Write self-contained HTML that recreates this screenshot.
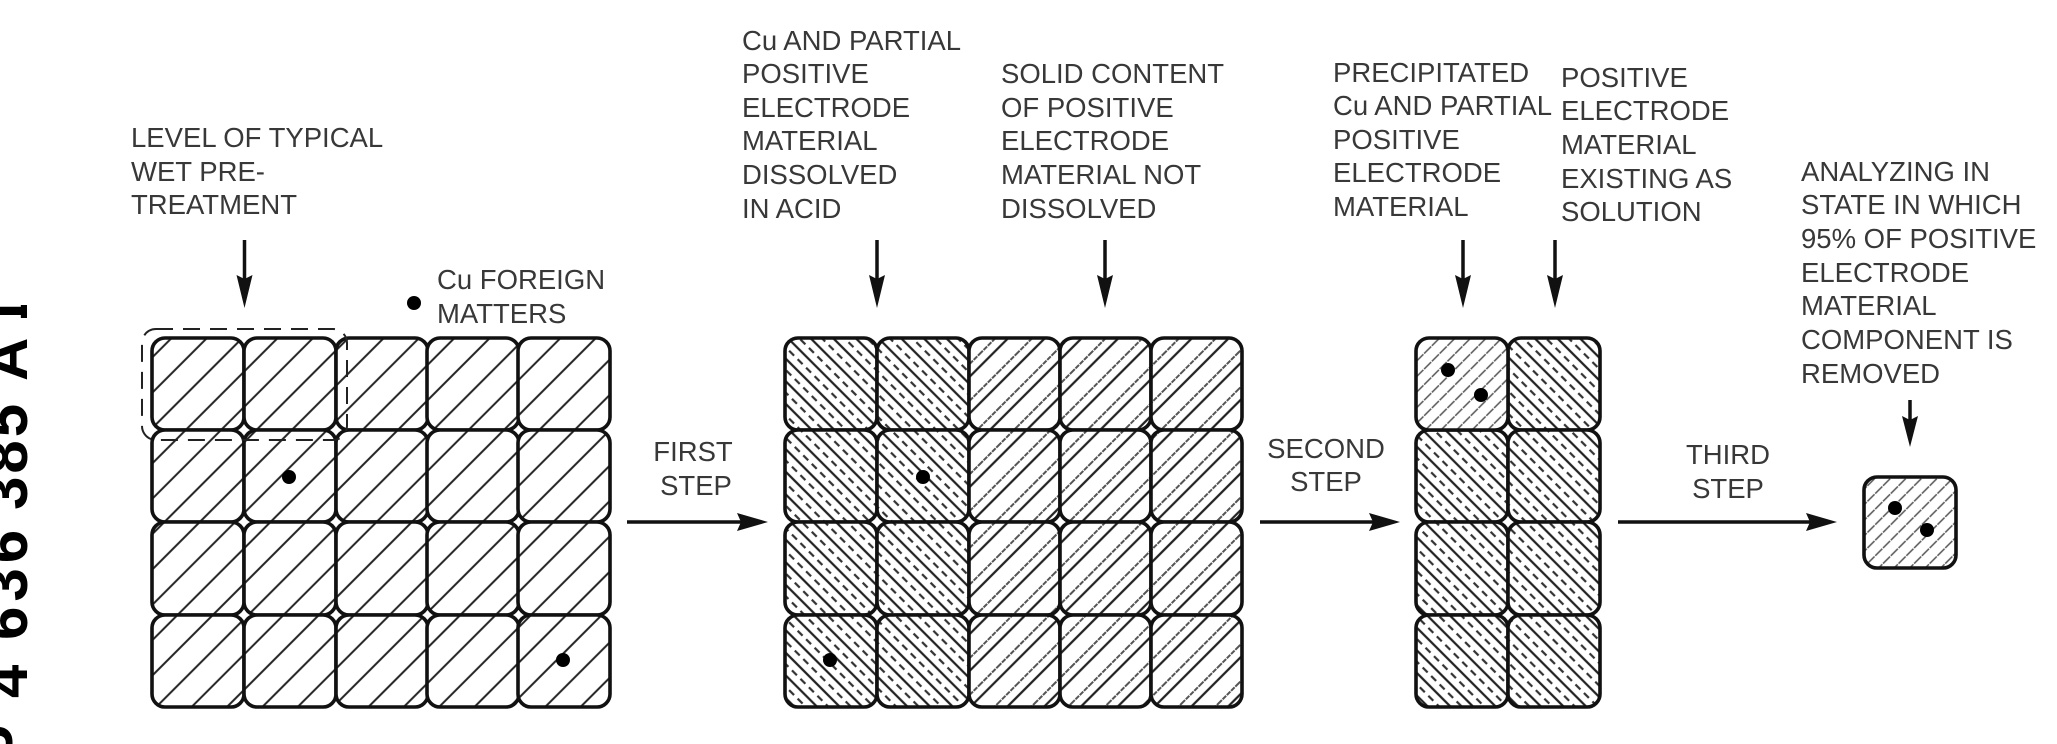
<!DOCTYPE html>
<html>
<head>
<meta charset="utf-8">
<style>
html,body{margin:0;padding:0;background:#fff;width:2057px;height:744px;overflow:hidden}
svg{display:block}
.t{font-family:"Liberation Sans",sans-serif;font-size:27.5px;fill:#383838}
.b{font-family:"Liberation Sans",sans-serif;font-size:60px;font-weight:bold;fill:#000}
.c{fill:none;stroke:#111;stroke-width:3.6}
</style>
</head>
<body>
<svg width="2057" height="744" viewBox="0 0 2057 744" xmlns="http://www.w3.org/2000/svg">
<defs>
<clipPath id="one"><rect x="0" y="305" width="40" height="13"/></clipPath>
<pattern id="a" patternUnits="userSpaceOnUse" width="25" height="25" patternTransform="rotate(-45)">
<rect width="25" height="25" fill="#fff"/><line x1="0" y1="10.400" x2="25" y2="10.400" stroke="#222" stroke-width="2"/>
</pattern>
<pattern id="b" patternUnits="userSpaceOnUse" width="24" height="16" patternTransform="rotate(45)">
<rect width="24" height="16" fill="#fff"/>
<line x1="0" y1="2" x2="24" y2="2" stroke="#222" stroke-width="2.2"/>
<line x1="2" y1="10" x2="9" y2="10" stroke="#333" stroke-width="2.2"/>
<line x1="14" y1="10" x2="21" y2="10" stroke="#333" stroke-width="2.2"/>
</pattern>
<pattern id="d" patternUnits="userSpaceOnUse" width="26" height="26" patternTransform="rotate(-45)">
<rect width="26" height="26" fill="#fff"/>
<line x1="0" y1="16" x2="26" y2="16" stroke="#222" stroke-width="2.2"/>
<line x1="0" y1="7" x2="26" y2="7" stroke="#555" stroke-width="2" stroke-dasharray="5 1"/>
</pattern>
<pattern id="f" patternUnits="userSpaceOnUse" width="11" height="11" patternTransform="rotate(-45)">
<rect width="11" height="11" fill="#fff"/>
<line x1="0" y1="3" x2="11" y2="3" stroke="#555" stroke-width="1.6" stroke-dasharray="8 1"/>
</pattern>
</defs>

<!-- Publication number -->
<g class="b">
<text transform="translate(27 381) rotate(-90)">A</text>
<g clip-path="url(#one)"><text transform="translate(27 329) rotate(-90)">1</text></g>
<text transform="translate(27 510) rotate(-90)" style="letter-spacing:3px">385</text>
<text transform="translate(27 640) rotate(-90)" style="letter-spacing:5px">636</text>
<text transform="translate(27 698) rotate(-90)">4</text>
<text transform="translate(27 765) rotate(-90)">P</text>
</g>

<!-- Labels -->
<g class="t">
<text x="131" y="147">LEVEL OF TYPICAL</text>
<text x="131" y="181">WET PRE-</text>
<text x="131" y="214">TREATMENT</text>
<text x="437" y="289">Cu FOREIGN</text>
<text x="437" y="323">MATTERS</text>

<text x="742" y="50">Cu AND PARTIAL</text>
<text x="742" y="83">POSITIVE</text>
<text x="742" y="117">ELECTRODE</text>
<text x="742" y="150">MATERIAL</text>
<text x="742" y="184">DISSOLVED</text>
<text x="742" y="218">IN ACID</text>

<text x="1001" y="83">SOLID CONTENT</text>
<text x="1001" y="117">OF POSITIVE</text>
<text x="1001" y="150">ELECTRODE</text>
<text x="1001" y="184">MATERIAL NOT</text>
<text x="1001" y="218">DISSOLVED</text>

<text x="1333" y="82">PRECIPITATED</text>
<text x="1333" y="115">Cu AND PARTIAL</text>
<text x="1333" y="149">POSITIVE</text>
<text x="1333" y="182">ELECTRODE</text>
<text x="1333" y="216">MATERIAL</text>

<text x="1561" y="87">POSITIVE</text>
<text x="1561" y="120">ELECTRODE</text>
<text x="1561" y="154">MATERIAL</text>
<text x="1561" y="188">EXISTING AS</text>
<text x="1561" y="221">SOLUTION</text>

<text x="1801" y="181">ANALYZING IN</text>
<text x="1801" y="214">STATE IN WHICH</text>
<text x="1801" y="248">95% OF POSITIVE</text>
<text x="1801" y="282">ELECTRODE</text>
<text x="1801" y="315">MATERIAL</text>
<text x="1801" y="349">COMPONENT IS</text>
<text x="1801" y="383">REMOVED</text>

<text x="693" y="461" text-anchor="middle">FIRST</text>
<text x="696" y="495" text-anchor="middle">STEP</text>
<text x="1326" y="458" text-anchor="middle">SECOND</text>
<text x="1326" y="491" text-anchor="middle">STEP</text>
<text x="1728" y="464" text-anchor="middle">THIRD</text>
<text x="1728" y="498" text-anchor="middle">STEP</text>
</g>

<!-- Grid 1 -->
<g class="c" style="fill:url(#a)">
<rect x="152" y="338" width="92" height="92" rx="13"/><rect x="244" y="338" width="92" height="92" rx="13"/><rect x="336" y="338" width="92" height="92" rx="13"/><rect x="427" y="338" width="92" height="92" rx="13"/><rect x="518" y="338" width="92" height="92" rx="13"/>
<rect x="152" y="430" width="92" height="92" rx="13"/><rect x="244" y="430" width="92" height="92" rx="13"/><rect x="336" y="430" width="92" height="92" rx="13"/><rect x="427" y="430" width="92" height="92" rx="13"/><rect x="518" y="430" width="92" height="92" rx="13"/>
<rect x="152" y="522" width="92" height="93" rx="13"/><rect x="244" y="522" width="92" height="93" rx="13"/><rect x="336" y="522" width="92" height="93" rx="13"/><rect x="427" y="522" width="92" height="93" rx="13"/><rect x="518" y="522" width="92" height="93" rx="13"/>
<rect x="152" y="615" width="92" height="92" rx="13"/><rect x="244" y="615" width="92" height="92" rx="13"/><rect x="336" y="615" width="92" height="92" rx="13"/><rect x="427" y="615" width="92" height="92" rx="13"/><rect x="518" y="615" width="92" height="92" rx="13"/>
</g>

<!-- Grid 2 -->
<g class="c" style="fill:url(#b)">
<rect x="785" y="338" width="92" height="92" rx="13"/><rect x="877" y="338" width="92" height="92" rx="13"/>
<rect x="785" y="430" width="92" height="92" rx="13"/><rect x="877" y="430" width="92" height="92" rx="13"/>
<rect x="785" y="522" width="92" height="93" rx="13"/><rect x="877" y="522" width="92" height="93" rx="13"/>
<rect x="785" y="615" width="92" height="92" rx="13"/><rect x="877" y="615" width="92" height="92" rx="13"/>
</g>
<g class="c" style="fill:url(#d)">
<rect x="969" y="338" width="91" height="92" rx="13"/><rect x="1060" y="338" width="91" height="92" rx="13"/><rect x="1151" y="338" width="91" height="92" rx="13"/>
<rect x="969" y="430" width="91" height="92" rx="13"/><rect x="1060" y="430" width="91" height="92" rx="13"/><rect x="1151" y="430" width="91" height="92" rx="13"/>
<rect x="969" y="522" width="91" height="93" rx="13"/><rect x="1060" y="522" width="91" height="93" rx="13"/><rect x="1151" y="522" width="91" height="93" rx="13"/>
<rect x="969" y="615" width="91" height="92" rx="13"/><rect x="1060" y="615" width="91" height="92" rx="13"/><rect x="1151" y="615" width="91" height="92" rx="13"/>
</g>

<!-- Grid 3 -->
<g class="c" style="fill:url(#b)">
<rect x="1508" y="338" width="92" height="92" rx="13"/>
<rect x="1416" y="430" width="92" height="92" rx="13"/><rect x="1508" y="430" width="92" height="92" rx="13"/>
<rect x="1416" y="522" width="92" height="93" rx="13"/><rect x="1508" y="522" width="92" height="93" rx="13"/>
<rect x="1416" y="615" width="92" height="92" rx="13"/><rect x="1508" y="615" width="92" height="92" rx="13"/>
</g>
<g class="c" style="fill:url(#f)">
<rect x="1416" y="338" width="92" height="92" rx="13"/>
<rect x="1864" y="477" width="92" height="91" rx="13"/>
</g>

<!-- Dashed outline -->
<rect x="142" y="329" width="205" height="111" rx="14" fill="none" stroke="#222" stroke-width="2" stroke-dasharray="17 10"/>

<!-- Dots -->
<g fill="#000">
<circle cx="414" cy="303" r="7"/>
<circle cx="289" cy="477" r="7"/>
<circle cx="563" cy="660" r="7"/>
<circle cx="923" cy="477" r="7"/>
<circle cx="830" cy="660" r="7"/>
<circle cx="1448" cy="370" r="7"/>
<circle cx="1481" cy="395" r="7"/>
<circle cx="1895" cy="508" r="7"/>
<circle cx="1927" cy="530" r="7"/>
</g>

<!-- Arrows -->
<g stroke="#111" stroke-width="3.5" fill="none">
<line x1="244.500" y1="240" x2="244.500" y2="280"/>
<line x1="877" y1="240" x2="877" y2="280"/>
<line x1="1105" y1="240" x2="1105" y2="280"/>
<line x1="1463" y1="240" x2="1463" y2="280"/>
<line x1="1555" y1="240" x2="1555" y2="280"/>
<line x1="1910" y1="400" x2="1910" y2="425"/>
<line x1="627" y1="522" x2="745" y2="522"/>
<line x1="1260" y1="522" x2="1375" y2="522"/>
<line x1="1618" y1="522" x2="1810" y2="522"/>
</g>
<g fill="#111">
<polygon points="236.500,275 244.500,279 252.500,275 244.500,308"/>
<polygon points="869,275 877,279 885,275 877,308"/>
<polygon points="1097,275 1105,279 1113,275 1105,308"/>
<polygon points="1455,275 1463,279 1471,275 1463,308"/>
<polygon points="1547,275 1555,279 1563,275 1555,308"/>
<polygon points="1902,416 1910,420 1918,416 1910,447"/>
<polygon points="737,513 741,522 737,531 768,522"/>
<polygon points="1369,513 1373,522 1369,531 1400,522"/>
<polygon points="1806,513 1810,522 1806,531 1837,522"/>
</g>
</svg>
</body>
</html>
